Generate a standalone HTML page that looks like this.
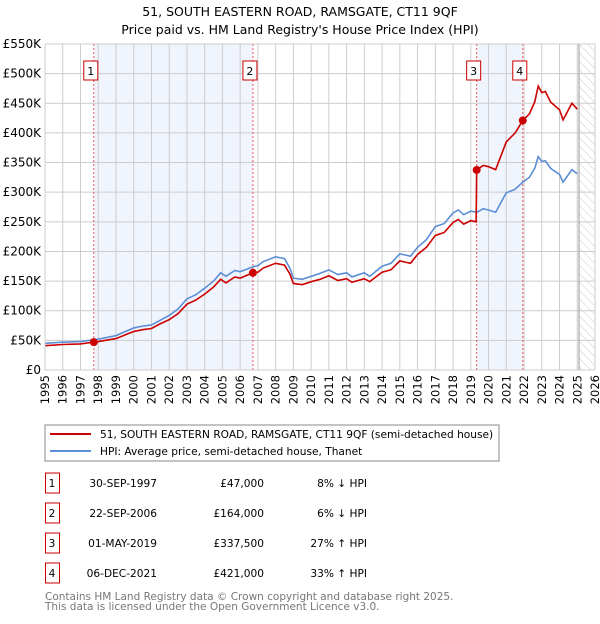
<!DOCTYPE html>
<html><head><meta charset="utf-8"><style>
body{margin:0;background:#fff;font-family:"DejaVu Sans","Liberation Sans",sans-serif;}
svg text{font-family:"DejaVu Sans","Liberation Sans",sans-serif;}
</style></head><body>
<svg id="chart" width="600" height="620" xmlns="http://www.w3.org/2000/svg">
<defs><pattern id="hatch" width="6" height="6" patternUnits="userSpaceOnUse" patternTransform="rotate(-45)"><line x1="0" y1="0" x2="0" y2="6" stroke="#ccc" stroke-width="1"/></pattern></defs>
<text x="300" y="16" text-anchor="middle" font-size="12.5">51, SOUTH EASTERN ROAD, RAMSGATE, CT11 9QF</text>
<text x="300" y="34" text-anchor="middle" font-size="12.5">Price paid vs. HM Land Registry's House Price Index (HPI)</text>
<g id="plot"></g>
<rect x="45" y="425" width="454" height="36" fill="#fff" stroke="#888"/>
<line x1="50" y1="434" x2="91" y2="434" stroke="#cc0000" stroke-width="2"/>
<text x="100" y="438" font-size="10.6">51, SOUTH EASTERN ROAD, RAMSGATE, CT11 9QF (semi-detached house)</text>
<line x1="50" y1="451" x2="91" y2="451" stroke="#5b8ed6" stroke-width="2"/>
<text x="100" y="455" font-size="10.6">HPI: Average price, semi-detached house, Thanet</text>
<g id="table"></g>
<text x="45" y="600" font-size="10.5" fill="#777">Contains HM Land Registry data © Crown copyright and database right 2025.</text>
<text x="45" y="610" font-size="10.5" fill="#777">This data is licensed under the Open Government Licence v3.0.</text>
</svg>
<script>
const hpiDates=[1995,1996,1997,1997.75,1998,1999,2000,2000.5,2001,2001.5,2002,2002.5,2003,2003.5,2004,2004.5,2004.9,2005.2,2005.7,2006,2006.72,2007,2007.3,2008,2008.5,2008.8,2009,2009.5,2010,2010.5,2011,2011.5,2012,2012.3,2013,2013.3,2014,2014.5,2015,2015.3,2015.6,2016,2016.5,2017,2017.5,2018,2018.3,2018.6,2019,2019.33,2019.7,2020,2020.4,2021,2021.5,2021.93,2022.3,2022.6,2022.8,2023,2023.2,2023.5,2024,2024.2,2024.7,2025];
const hpiValues=[45,47,48,51,52,58,71,74,76,84,92,103,120,127,138,150,164,158,168,166,174,176,183,191,188,172,155,153,158,163,169,161,164,157,164,158,175,180,196,194,192,207,220,242,247,265,270,262,268,266,272,270,266,299,305,317,325,340,360,352,353,340,330,317,338,331];
const priceDates=[1995,1996,1997,1997.75,1998,1999,2000,2000.5,2001,2001.5,2002,2002.5,2003,2003.5,2004,2004.5,2004.9,2005.2,2005.7,2006,2006.72,2007,2007.3,2008,2008.5,2008.8,2009,2009.5,2010,2010.5,2011,2011.5,2012,2012.3,2013,2013.3,2014,2014.5,2015,2015.3,2015.6,2016,2016.5,2017,2017.5,2018,2018.3,2018.6,2019,2019.3,2019.33,2019.7,2020,2020.4,2021,2021.5,2021.93,2022.3,2022.6,2022.8,2023,2023.2,2023.5,2024,2024.2,2024.7,2025];
const priceValues=[41,43,44,47,48,53,65,68,70,78,85,95,111,118,128,140,153,147,157,155,164,165,172,180,177,162,146,144,149,153,159,151,154,148,154,149,165,169,184,182,180,195,207,227,232,249,254,246,252,250,337.5,345,343,338,385,400,421,432,452,479,468,470,452,439,422,450,440];
const saleLabels=["1","2","3","4"];
const saleDates=[1997.75,2006.72,2019.33,2021.93];
const saleValues=[47,164,337.5,421];
const saleDateText=["30-SEP-1997","22-SEP-2006","01-MAY-2019","06-DEC-2021"];
const salePriceText=["£47,000","£164,000","£337,500","£421,000"];
const saleHpiText=["8% ↓ HPI","6% ↓ HPI","27% ↑ HPI","33% ↑ HPI"];
const yTicks=[0,50,100,150,200,250,300,350,400,450,500,550];
const yTickLabels=["£0","£50K","£100K","£150K","£200K","£250K","£300K","£350K","£400K","£450K","£500K","£550K"];
const xTicks=[1995,1996,1997,1998,1999,2000,2001,2002,2003,2004,2005,2006,2007,2008,2009,2010,2011,2012,2013,2014,2015,2016,2017,2018,2019,2020,2021,2022,2023,2024,2025,2026];

const L=45,R=595,T=44,B=370;
const x=v=>L+(v-1995)/31*(R-L);
const y=v=>B-v/550*(B-T);
const NS="http://www.w3.org/2000/svg";
const plot=document.getElementById('plot');
function mk(tag,attrs,parent){const e=document.createElementNS(NS,tag);for(const k in attrs)e.setAttribute(k,attrs[k]);(parent||plot).appendChild(e);return e;}

for(const [a,b] of [[0,1],[2,3]]){
  const r=mk('rect',{x:x(saleDates[a]),y:T,width:x(saleDates[b])-x(saleDates[a]),height:B-T,fill:'#f0f4fd'});
  
  
}
const hx=x(2025.1);
const h=mk('rect',{x:hx,y:T,width:R-hx,height:B-T,fill:'url(#hatch)'});


xTicks.forEach(t=>{
  const g=mk('line',{x1:x(t),x2:x(t),y1:T,y2:B,stroke:'#cccccc','stroke-width':1});
  
  
  const tx=mk('text',{x:0,y:0,'font-size':11.5,'text-anchor':'end',transform:`translate(${x(t)+4},${B+5}) rotate(-90)`});
  tx.textContent=t;
  
  
});
yTicks.forEach((t,i)=>{
  const g=mk('line',{x1:L,x2:R,y1:y(t),y2:y(t),stroke:'#cccccc','stroke-width':1});
  
  
  const tx=mk('text',{x:41,y:y(t)+4,'font-size':12,'text-anchor':'end'});
  tx.textContent=yTickLabels[i];
  
  
});
const vl=mk('line',{x1:hx,x2:hx,y1:T,y2:B,stroke:'#999','stroke-width':1});


saleDates.forEach((d,i)=>{
  const l=mk('line',{x1:x(d),x2:x(d),y1:T,y2:B,stroke:'#ee5555','stroke-width':1,'stroke-dasharray':'2,2'});
  
  
  const bx=mk('rect',{x:x(d)-10,y:61,width:14,height:19,fill:'#fff',stroke:'#cc0000'});
  
  
  const t=mk('text',{x:x(d)-3,y:75,'font-size':11,'text-anchor':'middle'});
  t.textContent=saleLabels[i];
  
  
});
const hp=mk('polyline',{points:hpiDates.map((d,i)=>x(d)+','+y(hpiValues[i])).join(' '),fill:'none',stroke:'#5b8ed6','stroke-width':1.6});


const pp=mk('polyline',{points:priceDates.map((d,i)=>x(d)+','+y(priceValues[i])).join(' '),fill:'none',stroke:'#cc0000','stroke-width':1.6});


saleDates.forEach((d,i)=>{
  const c=mk('circle',{cx:x(d),cy:y(saleValues[i]),r:4,fill:'#cc0000'});
  
  
});
const fr=mk('rect',{x:L,y:T,width:R-L,height:B-T,fill:'none',stroke:'#cccccc'});


const tb=document.getElementById('table');
saleLabels.forEach((s,i)=>{
  const cy=483+i*30;
  const bx=mk('rect',{x:45.5,y:cy-10,width:14,height:20,fill:'#fff',stroke:'#cc0000'},tb);
  
  
  const cols=[[52,'middle',s,'table-row-number'],[157,'end',saleDateText[i],'table-date'],[264,'end',salePriceText[i],'table-price'],[367,'end',saleHpiText[i],'table-hpi-diff']];
  cols.forEach(c=>{
    const t=mk('text',{x:c[0],y:cy+4,'font-size':10.6,'text-anchor':c[1]},tb);
    t.textContent=c[2];
    
    
  });
});
</script>
</body></html>
